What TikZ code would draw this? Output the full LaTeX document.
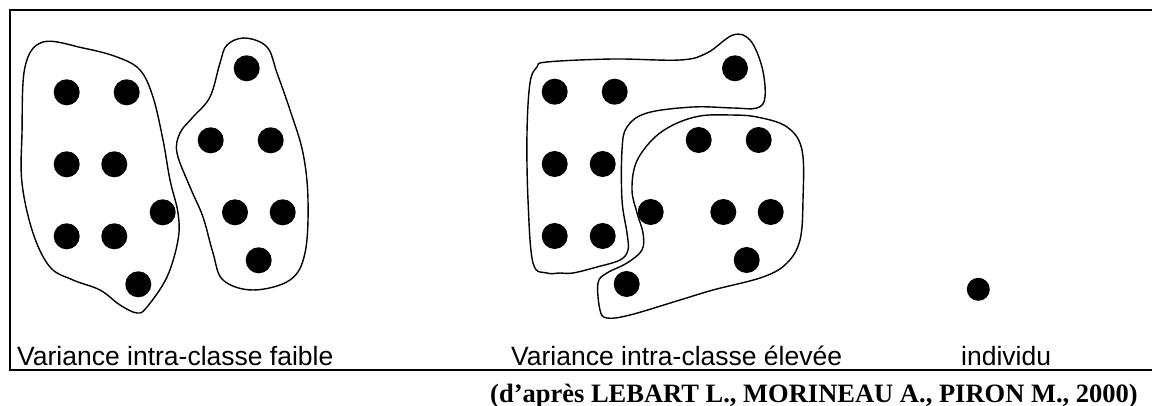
\documentclass[tikz,border=0pt]{standalone}
\usepackage{fontspec}
\setmainfont{Liberation Sans}
\newfontfamily\citefont{Liberation Serif}
\begin{document}
\begin{tikzpicture}[x=1pt,y=-1pt,
  pt/.style={circle,fill=black,inner sep=0pt,minimum size=26pt},
  ptsmall/.style={circle,fill=black,inner sep=0pt,minimum size=23pt},
  blob/.style={draw=black,line width=1.4pt,smooth cycle,tension=0.6},
  frame/.style={line width=2pt,line cap=rect},
  lbl/.style={anchor=base west,inner sep=0pt,font=\fontsize{26.5}{30}\selectfont},
  cite/.style={anchor=base west,inner sep=0pt,font=\citefont\bfseries\fontsize{26.5}{30}\selectfont}]
\useasboundingbox (0,0) rectangle (1152,406);
% frame
\coordinate (tl) at (10,10);
\coordinate (tr) at (1152,10);
\coordinate (bl) at (10,370);
\coordinate (br) at (1152,370);
\draw[frame] (tr) -- (tl) -- (bl) -- (br);
% blobs
\draw[blob] plot coordinates {(43,42) (83,48) (117,57) (140,70) (153,97) (163,140) (170,180) (178,213) (178,240) (167,277) (147,307) (137,313) (120,305) (100,290) (73,280) (50,267) (33,233) (22,183) (22,133) (25,67)};
\draw[blob] plot coordinates {(245,38) (267,47) (277,73) (290,110) (303,153) (308,200) (305,253) (290,280) (253,290) (223,280) (213,253) (203,217) (190,187) (177,153) (180,133) (193,117) (210,97) (220,63) (227,45)};
\draw[blob] plot coordinates {(547,62) (613,59) (680,60) (707,53) (733,35) (750,40) (762,67) (765,97) (757,108) (733,108) (693,107) (647,113) (627,127) (622,150) (622,200) (627,233) (628,250) (620,260) (597,267) (573,273) (560,273) (547,273) (533,263) (528,200) (527,133) (530,83) (537,67)};
\draw[blob] plot coordinates {(700,116) (730,115) (757,117) (787,127) (802,150) (803,200) (800,240) (787,263) (763,277) (713,290) (680,300) (630,315) (607,318) (600,310) (598,283) (607,273) (627,263) (642,250) (643,233) (637,213) (632,190) (636,163) (652,140) (673,125)};
% cluster A
\node[pt] (a1) at (66.7,92.3) {};
\node[pt] (a2) at (126.7,92.3) {};
\node[pt] (a3) at (66.7,164.3) {};
\node[pt] (a4) at (114.3,164.3) {};
\node[pt] (a5) at (162.7,212.3) {};
\node[pt] (a6) at (66.7,236.3) {};
\node[pt] (a7) at (114.3,236.3) {};
\node[pt] (a8) at (138.3,284.3) {};
% cluster B
\node[pt] (b1) at (246.7,68.3) {};
\node[pt] (b2) at (210.7,140.3) {};
\node[pt] (b3) at (270.7,140.3) {};
\node[pt] (b4) at (235,212.3) {};
\node[pt] (b5) at (282.7,212.3) {};
\node[pt] (b6) at (258.7,260.3) {};
% cluster C
\node[pt] (c1) at (554.7,91.7) {};
\node[pt] (c2) at (614.7,91.7) {};
\node[pt] (c3) at (735,68.3) {};
\node[pt] (c4) at (554.7,164) {};
\node[pt] (c5) at (602.7,164) {};
\node[pt] (c6) at (554.7,236) {};
\node[pt] (c7) at (602.7,236) {};
% cluster D
\node[pt] (d1) at (698.7,140) {};
\node[pt] (d2) at (758.7,140) {};
\node[pt] (d3) at (650.7,212) {};
\node[pt] (d4) at (723.3,212) {};
\node[pt] (d5) at (770.7,212) {};
\node[pt] (d6) at (746.7,260) {};
\node[pt] (d7) at (626.7,284) {};
% isolated individual
\node[ptsmall] (ind) at (978.3,289.3) {};
% labels
\node[lbl] (l1) at (17,365.5) {Variance intra-classe faible};
\node[lbl] (l2) at (511,365.5) {Variance intra-classe élevée};
\node[lbl] (l3) at (961,365.5) {individu};
\node[cite] (src) at (490,402) {(d’après LEBART L., MORINEAU A., PIRON M., 2000)};
\end{tikzpicture}
\end{document}
